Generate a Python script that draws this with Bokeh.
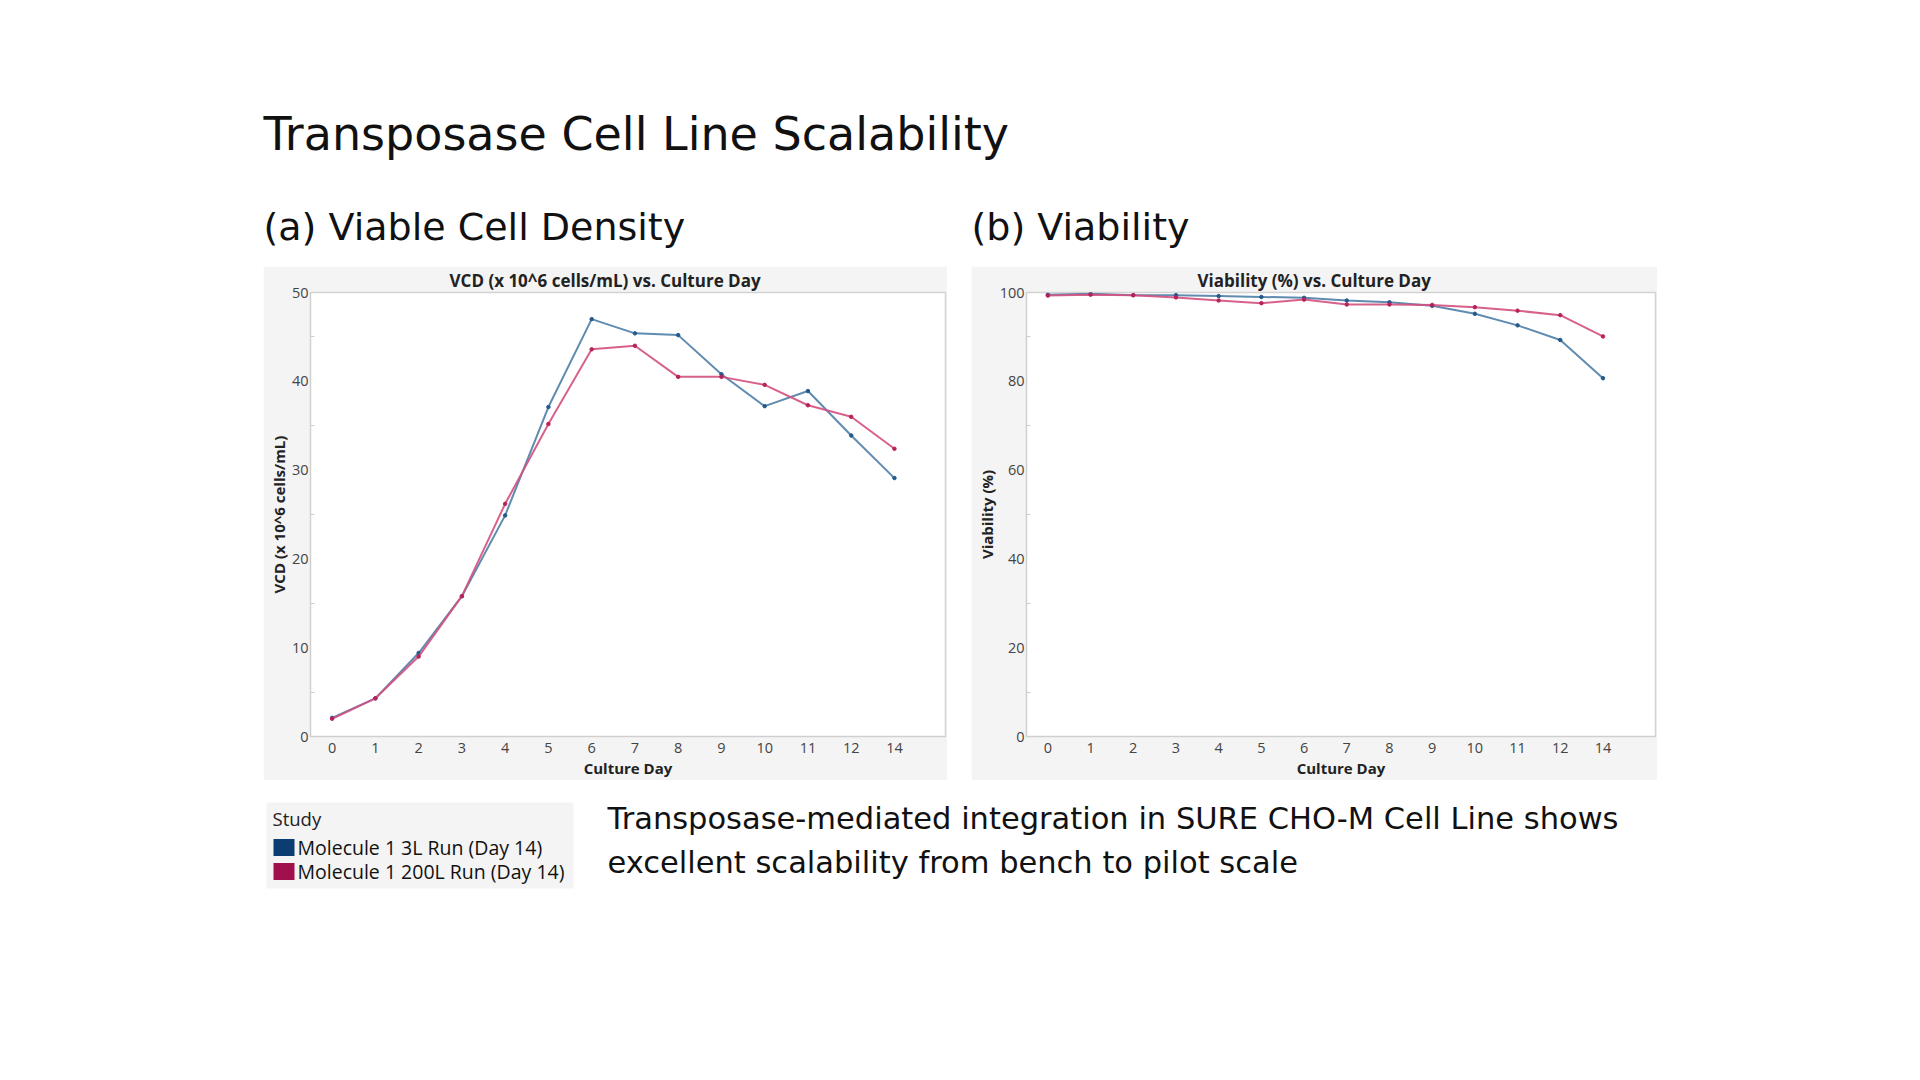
from bokeh.plotting import figure
from bokeh.layouts import column, row
from bokeh.models import Spacer, FixedTicker, Range1d, ColumnDataSource
from bokeh.embed import file_html
from bokeh.resources import INLINE
from bokeh.core.properties import value

# ---------------- data ----------------
days = ["0", "1", "2", "3", "4", "5", "6", "7", "8", "9", "10", "11", "12", "14"]
vcd_3l = [2.1, 4.3, 9.4, 15.8, 24.9, 37.1, 47.0, 45.4, 45.2, 40.8, 37.2, 38.9, 33.9, 29.1]
vcd_200l = [2.0, 4.3, 9.0, 15.8, 26.2, 35.2, 43.6, 44.0, 40.5, 40.5, 39.6, 37.3, 36.0, 32.4]
via_3l = [99.5, 99.7, 99.4, 99.4, 99.2, 99.0, 98.8, 98.2, 97.8, 97.0, 95.2, 92.6, 89.3, 80.7]
via_200l = [99.3, 99.5, 99.4, 98.9, 98.2, 97.6, 98.4, 97.3, 97.3, 97.2, 96.7, 95.9, 94.9, 90.1]
series_names = ["Molecule 1 3L Run (Day 14)", "Molecule 1 200L Run (Day 14)"]
vcd_ticks = [0, 10, 20, 30, 40, 50]
via_ticks = [0, 20, 40, 60, 80, 100]

main_title = "Transposase Cell Line Scalability"
sub_a = "(a) Viable Cell Density"
sub_b = "(b) Viability"
caption = ["Transposase-mediated integration in SURE CHO-M Cell Line shows",
           "excellent scalability from bench to pilot scale"]

LINE_COLORS = ["#4f7ea8", "#d4507f"]
DOT_COLORS = ["#245a8a", "#b8225b"]
SWATCH_COLORS = ["#0c3d72", "#a1104c"]
PANEL_BG = "#f4f4f4"
HEAD_FONT = "DejaVu Sans"
CHART_FONT = "Open Sans"


def canvas(w, h):
    p = figure(width=w, height=h, x_range=Range1d(0, w), y_range=Range1d(h, 0),
               output_backend="svg", toolbar_location=None, min_border=0,
               outline_line_color=None, background_fill_color="white",
               border_fill_color="white")
    p.axis.visible = False
    p.grid.visible = False
    return p


def chart(width, title, ylabel, series, yticks, minor, xend, border_left, title_offset):
    idx = list(range(len(days)))
    p = figure(width=width, height=514, x_range=Range1d(-0.5, xend),
               y_range=Range1d(yticks[0], yticks[-1]),
               output_backend="svg", toolbar_location=None,
               min_border_left=border_left, min_border_right=2,
               min_border_top=26, min_border_bottom=44,
               background_fill_color="white", border_fill_color=PANEL_BG,
               outline_line_color="#d3d3d3", outline_line_width=1.5)
    p.title.text = title
    p.title.align = "left"
    p.title.offset = title_offset
    p.title.text_font = CHART_FONT
    p.title.text_font_style = "bold"
    p.title.text_font_size = "17px"
    p.title.text_color = "#222222"
    p.title.standoff = 1
    p.grid.visible = False

    for vals, lc, dc in zip(series, LINE_COLORS, DOT_COLORS):
        src = ColumnDataSource(dict(x=idx, y=vals))
        p.line("x", "y", source=src, line_color=lc, line_width=2.0, line_alpha=0.9)
        p.scatter("x", "y", source=src, size=3.5, color=dc)

    p.xaxis.ticker = FixedTicker(ticks=idx)
    p.xaxis.major_label_overrides = {i: d for i, d in enumerate(days)}
    p.yaxis.ticker = FixedTicker(ticks=yticks, minor_ticks=minor)
    for ax in (p.xaxis[0], p.yaxis[0]):
        ax.axis_line_color = "#cfcfcf"
        ax.major_label_text_font = CHART_FONT
        ax.major_label_text_font_size = "14.5px"
        ax.major_label_text_color = "#444444"
        ax.axis_label_text_font = CHART_FONT
        ax.axis_label_text_font_style = "bold"
        ax.axis_label_text_font_size = "15px"
        ax.axis_label_text_color = "#222222"
        ax.minor_tick_line_color = "#cfcfcf"
        ax.major_tick_line_color = "#cfcfcf"
    p.xaxis.axis_label = "Culture Day"
    p.xaxis.major_tick_line_color = None
    p.xaxis.minor_tick_line_color = None
    p.xaxis.major_tick_out = 0
    p.xaxis.major_label_standoff = 6
    p.xaxis.axis_label_standoff = 2
    p.yaxis.axis_label = ylabel
    p.yaxis.major_tick_in = 0
    p.yaxis.major_tick_out = 0
    p.yaxis.minor_tick_in = 4
    p.yaxis.minor_tick_out = 0
    p.yaxis.major_label_standoff = 2
    p.yaxis.axis_label_standoff = 0
    return p


# ---------------- header ----------------
top = canvas(1920, 266)
top.text(x=[263], y=[133], text=[main_title], text_font=value(HEAD_FONT),
         text_font_size="46px", text_baseline="alphabetic", text_color="#111111")
top.text(x=[263, 971], y=[226, 226], text=[sub_a, sub_b], text_font=value(HEAD_FONT),
         text_font_size="38px", text_baseline="alphabetic", text_color="#111111")

# ---------------- charts ----------------
fa = chart(684, "VCD (x 10^6 cells/mL) vs. Culture Day", "VCD (x 10^6 cells/mL)",
           [vcd_3l, vcd_200l], vcd_ticks, [5, 15, 25, 35, 45], 14.18, 47, 139)
fb = chart(686, "Viability (%) vs. Culture Day", "Viability (%)",
           [via_3l, via_200l], via_ticks, [10, 30, 50, 70, 90], 14.23, 55, 171)

mid = row(Spacer(width=263, height=514), fa, Spacer(width=24, height=514), fb,
          Spacer(width=263, height=514))

# ---------------- footer ----------------
bot = canvas(1920, 300)
# legend box (coordinates relative to footer top at page y=780)
bot.quad(left=[266], right=[573], top=[22], bottom=[108], fill_color=PANEL_BG, line_color=None)
bot.text(x=[272], y=[38], text=["Study"], text_font=value(CHART_FONT), text_font_size="18.5px",
         text_baseline="middle", text_color="#222222")
bot.rect(x=[283.5, 283.5], y=[67, 91], width=21, height=17, fill_color=SWATCH_COLORS,
         line_color=None)
bot.text(x=[297, 297], y=[67, 91], text=series_names, text_font=value(CHART_FONT),
         text_font_size="19.5px", text_baseline="middle", text_color="#111111")
bot.text(x=[607, 607], y=[38, 82], text=caption, text_font=value(HEAD_FONT),
         text_font_size="30.5px", text_baseline="middle", text_color="#111111")

page = column(top, mid, bot, spacing=0)
open("out.html", "w").write(file_html(page, INLINE))
